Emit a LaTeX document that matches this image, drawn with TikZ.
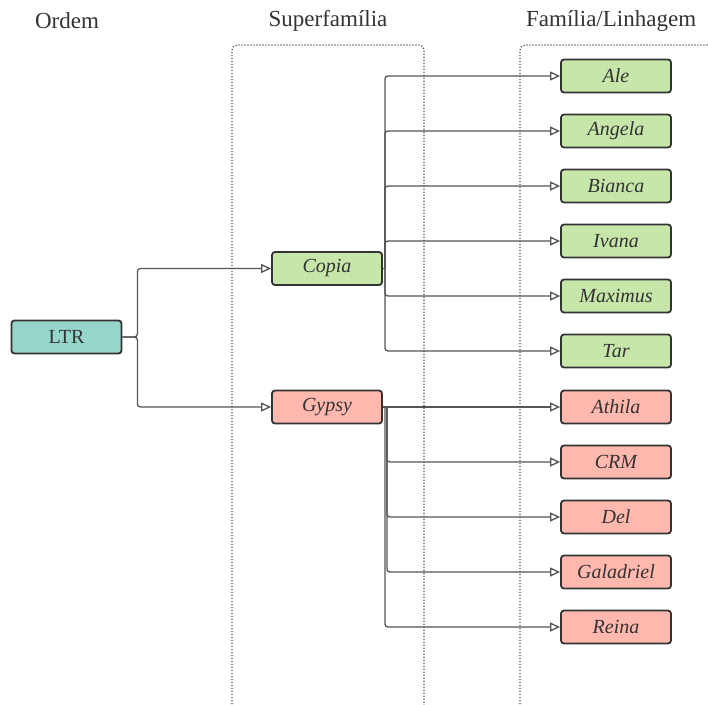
\documentclass[tikz,border=0pt]{standalone}
\usepackage{fontspec}
\setmainfont{Liberation Serif}
\usetikzlibrary{arrows.meta}
\definecolor{leafgreen}{HTML}{C7E6A9}
\definecolor{leafred}{HTML}{FFB8AE}
\definecolor{rootteal}{HTML}{96D5C9}
\definecolor{ink}{HTML}{333333}
\definecolor{wire}{HTML}{555555}
\tikzset{
  taxon/.style={draw=ink, line width=1.8pt, rounded corners=3pt, minimum width=110pt,
    minimum height=33pt, inner sep=0pt, text=ink, font=\fontsize{20}{22}\selectfont\itshape},
  greenbox/.style={taxon, fill=leafgreen},
  redbox/.style={taxon, fill=leafred},
  rootbox/.style={taxon, fill=rootteal, font=\fontsize{20}{22}\selectfont},
  heading/.style={text=ink, font=\fontsize{23}{26}\selectfont, inner sep=0pt},
  wirebase/.style={draw=wire, line width=1.3pt},
  link/.style={wirebase, rounded corners=3pt,
    -{Triangle[open, length=10pt, width=9pt, line width=1.3pt]}},
  lane/.style={draw=wire, line width=1.3pt, dash pattern=on 1.2pt off 1.8pt, rounded corners=5pt}
}
\begin{document}
\begin{tikzpicture}[x=1pt, y=-1pt]
\useasboundingbox (0,0) rectangle (708,704);
% column lanes
\draw[lane] (232,710) -- (232,45) -- (424,45) -- (424,710);
\draw[lane] (520,710) -- (520,45) -- (720,45);
% headings
\node[heading] (hOrdem) at (67,21) {Ordem};
\node[heading] (hSuper) at (328,21) {Superfamília};
\node[heading, anchor=west] (hFam) at (526,21) {Família/Linhagem};
% root and superfamilies
\node[rootbox] (ltr) at (66.5,337) {LTR};
\node[greenbox] (copia) at (327,268.5) {Copia};
\node[redbox] (gypsy) at (327,407) {Gypsy};
% families
\node[greenbox] (ale) at (616,76) {Ale};
\node[greenbox] (angela) at (616,131) {Angela};
\node[greenbox] (bianca) at (616,186) {Bianca};
\node[greenbox] (ivana) at (616,241) {Ivana};
\node[greenbox] (maximus) at (616,296) {Maximus};
\node[greenbox] (tar) at (616,351) {Tar};
\node[redbox] (athila) at (616,407) {Athila};
\node[redbox] (crm) at (616,462) {CRM};
\node[redbox] (del) at (616,517) {Del};
\node[redbox] (galadriel) at (616,572) {Galadriel};
\node[redbox] (reina) at (616,627) {Reina};
% connectors
\foreach \t in {copia,gypsy}
  \draw[link] (ltr.east) -- ++(15,0) |- (\t.west);
\draw[wirebase] (copia.east) -- ([xshift=2pt]copia.east);
\foreach \t in {ale,angela,bianca,ivana,maximus,tar}
  \draw[link] ([xshift=2pt]copia.east) |- (\t.west);
\draw[link] (gypsy.east) -- (athila.west);
\foreach \t/\dx in {crm/4,del/4,galadriel/4,reina/2}
  \draw[link] ([xshift=\dx pt]gypsy.east) |- (\t.west);
\end{tikzpicture}
\end{document}
